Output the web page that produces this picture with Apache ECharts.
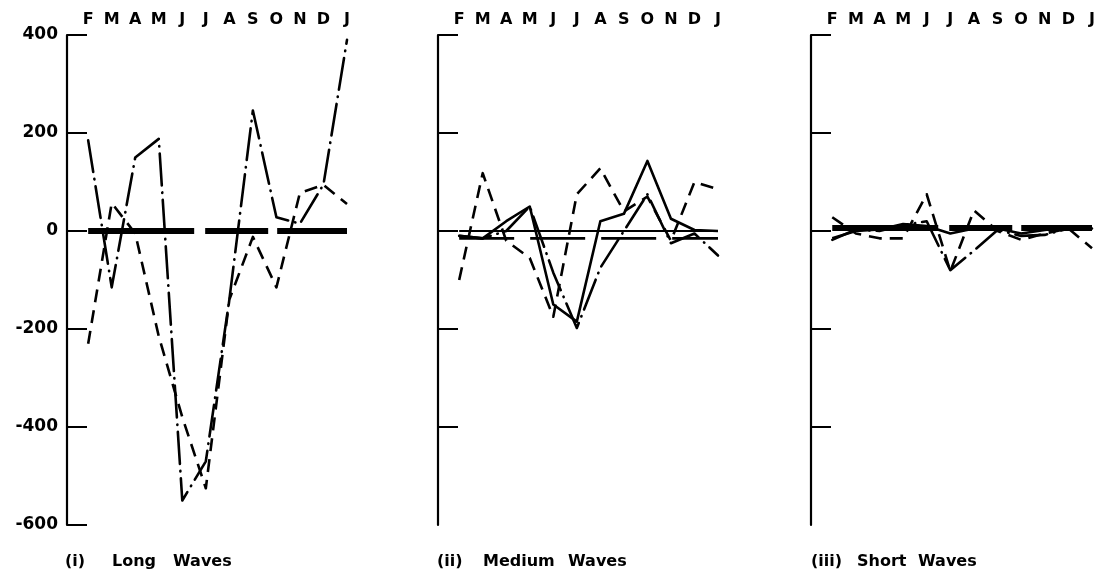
<!DOCTYPE html>
<html>
<head>
<meta charset="utf-8">
<script src="https://cdn.jsdelivr.net/npm/echarts@6/dist/echarts.min.js"></script>
<style>
  html, body { margin: 0; padding: 0; background: #fff; }
  #chart { width: 1103px; height: 576px; }
</style>
</head>
<body>
<div id="chart"></div>
<script>
// Month sequence shared by the three panels (February to the following January)
const months = ['F', 'M', 'A', 'M', 'J', 'J', 'A', 'S', 'O', 'N', 'D', 'J'];
const yLabels = [-600, -400, -200, 0, 200, 400];

// (i) Long waves
const longDashed  = [-230, 57, -5, -215, -380, -525, -140, -12, -115, 78, 94, 55];
const longDashDot = [185, -115, 150, 188, -550, -470, -140, 246, 28, 15, 95, 390];
const longBase    = [0, 0, 0, 0, 0, 0, 0, 0, 0, 0, 0, 0];

// (ii) Medium waves
const mediumDashed  = [-100, 118, -20, -55, -175, 75, 128, 40, 70, -20, 100, 85];
const mediumDashDot = [-10, -15, 0, 50, -85, -198, -75, 0, 75, -25, -5, -50];
const mediumSolid   = [-10, -15, 20, 50, -150, -185, 20, 35, 143, 25, 2, 0];
const mediumZero    = [0, 0, 0, 0, 0, 0, 0, 0, 0, 0, 0, 0];
const mediumBase    = [-15, -15, -15, -15, -15, -15, -15, -15, -15, -15, -15, -15];

// (iii) Short waves
const shortDashed  = [28, -5, -15, -15, 75, -82, 42, 0, -18, -5, 5, -35];
const shortDashDot = [-18, 3, 0, 12, 20, -80, -40, 2, -10, -8, 5, 5];
const shortSolid   = [-15, 0, 3, 14, 10, -5, 5, 5, -5, 2, 8, 8];
const shortBase    = [6, 6, 6, 6, 6, 6, 6, 6, 6, 6, 6, 6];

// Panel captions, one word per entry
const captions = [
  ['(i)', 'Long', 'Waves'],
  ['(ii)', 'Medium', 'Waves'],
  ['(iii)', 'Short', 'Waves']
];

const INK = '#000';
const FONT = 'DejaVu Sans';
const monthIdx = months.map((m, k) => k);

const STYLES = {
  dashed:  { width: 2.6, type: [13, 8], cap: 'butt' },
  dashDot: { width: 2.6, type: [32, 7, 0.5, 7], cap: 'round' },
  solid:   { width: 2.6, type: 'solid', cap: 'butt' },
  zero:    { width: 2.2, type: 'solid', cap: 'butt' },
  base:    { width: 2.8, type: [55, 16], cap: 'butt' },
  thick:   { width: 6, type: [106, 11, 63, 9, 100], cap: 'butt' }
};

const panels = [
  { left: 67,  width: 280, labels: true,  caption: captions[0], wordX: [65, 112, 173],
    lines: [[longBase, 'thick'], [longDashed, 'dashed'], [longDashDot, 'dashDot']] },
  { left: 438, width: 280, labels: false, caption: captions[1], wordX: [437, 483, 568],
    lines: [[mediumZero, 'zero'], [mediumBase, 'base'], [mediumDashed, 'dashed'],
            [mediumDashDot, 'dashDot'], [mediumSolid, 'solid']] },
  { left: 811, width: 281, labels: false, caption: captions[2], wordX: [811, 857, 918],
    lines: [[shortBase, 'thick'], [shortDashed, 'dashed'], [shortDashDot, 'dashDot'],
            [shortSolid, 'solid']] }
];

const grid = [], xAxis = [], yAxis = [], series = [], graphic = [];

panels.forEach((p, i) => {
  grid.push({ left: p.left, width: p.width, top: 35, bottom: 51, containLabel: false });

  xAxis.push({
    gridIndex: i, type: 'value', position: 'top',
    min: -0.9, max: 11,
    axisLine: { show: false }, axisTick: { show: false }, splitLine: { show: false },
    axisLabel: {
      customValues: monthIdx,
      formatter: v => months[Math.round(v)],
      color: INK, fontFamily: FONT, fontWeight: 'bold', fontSize: 16, margin: 7
    }
  });

  yAxis.push({
    gridIndex: i, type: 'value', min: -600, max: 400, interval: 200,
    axisLine: { show: true, onZero: false, lineStyle: { color: INK, width: 2.2 } },
    axisTick: {
      show: true, inside: true, length: 20,
      customValues: p.labels ? yLabels : yLabels.slice(1),
      lineStyle: { color: INK, width: 2 }
    },
    splitLine: { show: false },
    axisLabel: {
      show: p.labels, customValues: yLabels,
      color: INK, fontFamily: FONT, fontWeight: 'bold', fontSize: 17, margin: 9
    }
  });

  p.lines.forEach(([values, style], k) => {
    const s = STYLES[style];
    series.push({
      type: 'line', xAxisIndex: i, yAxisIndex: i,
      data: values.map((v, j) => [monthIdx[j], v]),
      symbol: 'none', silent: true, z: 2 + k,
      lineStyle: { color: INK, width: s.width, type: s.type, cap: s.cap, join: 'round' }
    });
  });

  p.caption.forEach((word, k) => {
    graphic.push({
      type: 'text', left: p.wordX[k], top: 554, silent: true,
      style: { text: word, fill: INK, font: 'bold 16px "' + FONT + '"' }
    });
  });
});

const chart = echarts.init(document.getElementById('chart'), null, { renderer: 'canvas' });
chart.setOption({
  animation: false,
  backgroundColor: '#fff',
  grid, xAxis, yAxis, series, graphic
});
</script>
</body>
</html>
